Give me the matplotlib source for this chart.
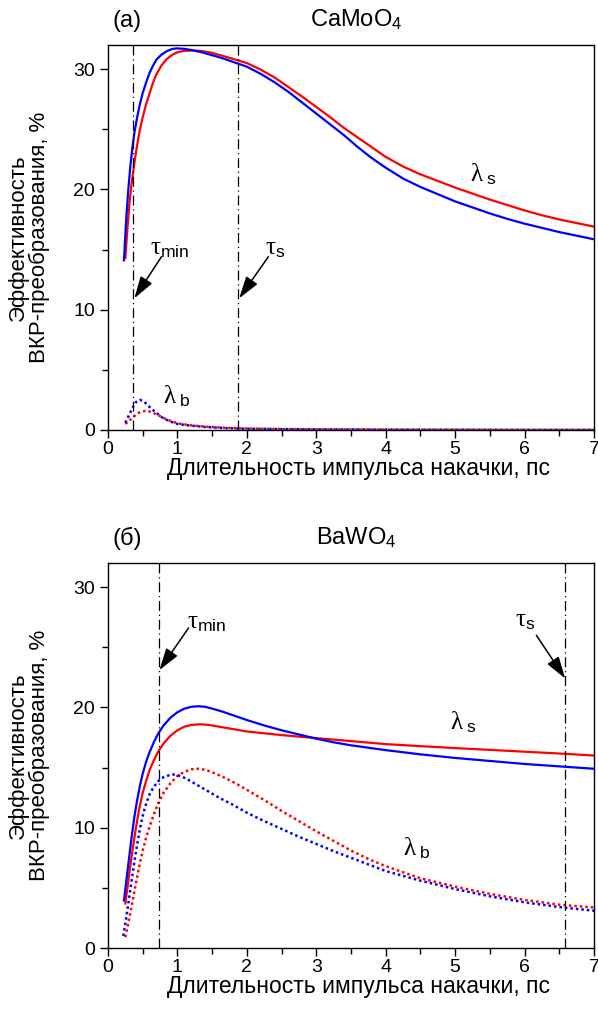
import numpy as np
import matplotlib
matplotlib.use('Agg')
import matplotlib.pyplot as plt
from matplotlib.ticker import MultipleLocator

plt.rcParams['font.family'] = ['Liberation Sans', 'DejaVu Sans']
plt.rcParams['mathtext.fontset'] = 'custom'
plt.rcParams['mathtext.rm'] = 'Liberation Serif'
plt.rcParams['mathtext.it'] = 'Liberation Serif'
plt.rcParams['mathtext.sf'] = 'Liberation Sans'

# ---- (a) CaMoO4 ----
ca_s_blue_x = [0.23, 0.26, 0.29, 0.32, 0.35, 0.38, 0.42, 0.46, 0.5, 0.55, 0.6, 0.65, 0.7, 0.77, 0.85, 0.93, 1.0,
               1.1, 1.2, 1.35, 1.5, 1.65, 1.8, 2.0, 2.2, 2.4, 2.6, 2.8, 3.0, 3.2, 3.4, 3.6, 3.8, 4.0,
               4.25, 4.5, 4.75, 5.0, 5.25, 5.5, 5.75, 6.0, 6.25, 6.5, 6.75, 7.0]
ca_s_blue_y = [14.1, 17.3, 19.8, 21.8, 23.4, 24.7, 26.0, 27.1, 28.0, 28.9, 29.7, 30.3, 30.8, 31.2, 31.5, 31.68, 31.72,
               31.68, 31.58, 31.4, 31.15, 30.9, 30.6, 30.2, 29.6, 28.9, 28.1, 27.2, 26.3, 25.4, 24.5, 23.5, 22.6, 21.8,
               20.9, 20.2, 19.6, 19.0, 18.5, 18.0, 17.55, 17.15, 16.8, 16.45, 16.15, 15.85]
ca_s_red_x = [0.25, 0.28, 0.31, 0.34, 0.38, 0.42, 0.46, 0.5, 0.55, 0.6, 0.65, 0.7, 0.77, 0.85, 0.93, 1.0,
              1.1, 1.23, 1.35, 1.5, 1.65, 1.8, 2.0, 2.2, 2.4, 2.6, 2.8, 3.0, 3.2, 3.4, 3.6, 3.8, 4.0,
              4.25, 4.5, 4.75, 5.0, 5.25, 5.5, 5.75, 6.0, 6.25, 6.5, 6.75, 7.0]
ca_s_red_y = [14.3, 16.8, 18.9, 20.5, 22.2, 23.7, 25.0, 26.0, 27.1, 28.0, 28.9, 29.6, 30.3, 30.85, 31.2, 31.4,
              31.52, 31.55, 31.5, 31.35, 31.1, 30.85, 30.5, 29.95, 29.3, 28.5, 27.7, 26.85, 26.0, 25.1, 24.3, 23.5, 22.7,
              21.9, 21.25, 20.7, 20.15, 19.65, 19.15, 18.7, 18.25, 17.85, 17.5, 17.2, 16.9]
ca_b_blue_x = [0.25, 0.3, 0.35, 0.4, 0.46, 0.52, 0.6, 0.7, 0.8, 0.9, 1.0, 1.2, 1.4, 1.7, 2.0, 2.5, 3, 4, 5, 6, 7]
ca_b_blue_y = [0.6, 1.2, 1.8, 2.3, 2.5, 2.35, 1.9, 1.4, 0.95, 0.7, 0.5, 0.35, 0.25, 0.15, 0.1, 0.07, 0.05, 0.03, 0.02, 0.01, 0.01]
ca_b_red_x = [0.25, 0.3, 0.35, 0.4, 0.45, 0.5, 0.56, 0.62, 0.7, 0.8, 0.9, 1.0, 1.2, 1.4, 1.7, 2.0, 2.5, 3, 4, 5, 6, 7]
ca_b_red_y = [0.5, 0.75, 1.0, 1.25, 1.45, 1.55, 1.6, 1.5, 1.3, 1.0, 0.75, 0.55, 0.38, 0.28, 0.18, 0.12, 0.08, 0.05, 0.03, 0.02, 0.01, 0.01]
ca_tau_min, ca_tau_s = 0.36, 1.87

# ---- (б) BaWO4 ----
ba_s_blue_x = [0.23, 0.26, 0.3, 0.34, 0.38, 0.42, 0.46, 0.5, 0.55, 0.6, 0.66, 0.72, 0.8, 0.9, 1.0, 1.1, 1.2,
               1.3, 1.4, 1.5, 1.65, 1.8, 2.0, 2.25, 2.5, 2.75, 3.0, 3.25, 3.5, 3.75, 4.0, 4.5, 5.0, 5.5, 6.0, 6.5, 7.0]
ba_s_blue_y = [3.95, 5.4, 7.3, 9.2, 10.9, 12.3, 13.5, 14.5, 15.5, 16.3, 17.1, 17.8, 18.5, 19.15, 19.6, 19.9, 20.05,
               20.1, 20.05, 19.9, 19.65, 19.35, 18.95, 18.5, 18.1, 17.75, 17.4, 17.1, 16.85, 16.65, 16.45, 16.1, 15.8,
               15.55, 15.3, 15.1, 14.9]
ba_s_red_x = [0.25, 0.28, 0.32, 0.36, 0.4, 0.45, 0.5, 0.55, 0.6, 0.66, 0.72, 0.8, 0.9, 1.0, 1.1, 1.2, 1.33,
              1.45, 1.6, 1.8, 2.0, 2.5, 3.0, 3.5, 4.0, 4.5, 5.0, 5.5, 6.0, 6.5, 7.0]
ba_s_red_y = [3.7, 5.0, 6.8, 8.4, 9.9, 11.6, 12.9, 13.9, 14.8, 15.6, 16.3, 17.0, 17.65, 18.1, 18.4, 18.55, 18.6,
              18.55, 18.4, 18.2, 18.0, 17.7, 17.45, 17.2, 16.95, 16.78, 16.62, 16.47, 16.32, 16.17, 16.0]
ba_b_blue_x = [0.22, 0.26, 0.3, 0.34, 0.38, 0.42, 0.46, 0.5, 0.55, 0.6, 0.66, 0.72, 0.8, 0.9, 0.95, 1.05, 1.15,
               1.3, 1.45, 1.6, 1.8, 2.0, 2.25, 2.5, 2.75, 3.0, 3.25, 3.5, 3.75, 4.0, 4.5, 5.0, 5.5, 6.0, 6.5, 7.0]
ba_b_blue_y = [1.0, 2.4, 4.0, 5.6, 7.2, 8.6, 9.9, 11.0, 12.0, 12.8, 13.4, 13.85, 14.2, 14.4, 14.42, 14.3, 14.0,
               13.5, 13.0, 12.5, 11.9, 11.25, 10.55, 9.9, 9.25, 8.65, 8.05, 7.5, 6.95, 6.4, 5.6, 4.9, 4.3, 3.8, 3.4, 3.1]
ba_b_red_x = [0.25, 0.28, 0.32, 0.36, 0.4, 0.45, 0.5, 0.55, 0.6, 0.66, 0.72, 0.8, 0.9, 1.0, 1.1, 1.2, 1.3,
              1.4, 1.55, 1.7, 1.85, 2.0, 2.25, 2.5, 2.75, 3.0, 3.25, 3.5, 3.75, 4.0, 4.5, 5.0, 5.5, 6.0, 6.5, 7.0]
ba_b_red_y = [0.9, 1.7, 2.9, 4.1, 5.3, 6.8, 8.1, 9.2, 10.1, 11.1, 12.0, 12.9, 13.7, 14.3, 14.65, 14.85, 14.9,
              14.82, 14.5, 14.1, 13.65, 13.15, 12.3, 11.4, 10.55, 9.7, 8.9, 8.1, 7.4, 6.8, 5.8, 5.1, 4.5, 4.0, 3.6, 3.37]
ba_tau_min, ba_tau_s = 0.73, 6.585

xlabel = 'Длительность импульса накачки, пс'
ylabel = 'Эффективность\nВКР-преобразования, %'

fig = plt.figure(figsize=(5.98, 10.23), dpi=100)
ax1 = fig.add_axes([0.1806, 0.5797, 0.8127, 0.3763])
ax2 = fig.add_axes([0.1806, 0.0733, 0.8127, 0.3763])

dashdot = (0, (8, 3, 1, 3))
dotted = (0, (1, 1.2))


def style(ax):
    ax.set_xlim(0, 7)
    ax.set_ylim(0, 32)
    ax.xaxis.set_major_locator(MultipleLocator(1))
    ax.xaxis.set_minor_locator(MultipleLocator(0.5))
    ax.yaxis.set_major_locator(MultipleLocator(10))
    ax.yaxis.set_minor_locator(MultipleLocator(5))
    ax.tick_params(which='both', direction='out', labelsize=14, width=1)
    ax.tick_params(which='major', length=6)
    ax.tick_params(which='minor', length=4)
    ax.tick_params(axis='x', pad=2)
    for sp in ax.spines.values():
        sp.set_linewidth(1)
    ax.set_xlabel(xlabel, fontsize=16.5, labelpad=-1)
    ax.xaxis.label.set_x(0.515)
    ax.set_ylabel(ylabel, fontsize=16, linespacing=1.0)
    ax.yaxis.set_label_coords(-0.12, 0.5)


def arrow(ax, xy, xytext):
    ax.annotate('', xy=xy, xytext=xytext,
                arrowprops=dict(arrowstyle='-|>,head_length=0.9,head_width=0.28', color='black', lw=1.1,
                                mutation_scale=15, shrinkA=0, shrinkB=0))


# panel (a)
ax1.plot(ca_s_red_x, ca_s_red_y, color='red', lw=1.6)
ax1.plot(ca_s_blue_x, ca_s_blue_y, color='blue', lw=1.6)
ax1.plot(ca_b_red_x, ca_b_red_y, color='red', lw=1.8, linestyle=dotted)
ax1.plot(ca_b_blue_x, ca_b_blue_y, color='blue', lw=1.8, linestyle=dotted)
ax1.axvline(ca_tau_min, color='black', lw=0.9, linestyle=dashdot)
ax1.axvline(ca_tau_s, color='black', lw=0.9, linestyle=dashdot)
arrow(ax1, (0.38, 10.95), (0.77, 14.4))
arrow(ax1, (1.89, 10.95), (2.31, 14.4))
ax1.text(0.89, 15.1, r'$\tau_{\mathsf{min}}$', fontsize=18, ha='center', va='center')
ax1.text(2.41, 15.1, r'$\tau_{\mathsf{s}}$', fontsize=18, ha='center', va='center')
ax1.text(5.41, 21.3, r'$\lambda_{\ \mathsf{s}}$', fontsize=18, ha='center', va='center')
ax1.text(0.99, 2.8, r'$\lambda_{\ \mathsf{b}}$', fontsize=18, ha='center', va='center')
ax1.text(0.01, 1.047, '(a)', transform=ax1.transAxes, fontsize=17, ha='left', va='baseline')
ax1.text(0.51, 1.047, r'CaMoO$_{\mathsf{4}}$', transform=ax1.transAxes, fontsize=17, ha='center', va='baseline')
style(ax1)

# panel (б)
ax2.plot(ba_s_red_x, ba_s_red_y, color='red', lw=1.6)
ax2.plot(ba_s_blue_x, ba_s_blue_y, color='blue', lw=1.6)
ax2.plot(ba_b_red_x, ba_b_red_y, color='red', lw=1.8, linestyle=dotted)
ax2.plot(ba_b_blue_x, ba_b_blue_y, color='blue', lw=1.8, linestyle=dotted)
ax2.axvline(ba_tau_min, color='black', lw=0.9, linestyle=dashdot)
ax2.axvline(ba_tau_s, color='black', lw=0.9, linestyle=dashdot)
arrow(ax2, (0.74, 23.1), (1.16, 26.6))
arrow(ax2, (6.585, 22.4), (6.17, 26.0))
ax2.text(1.42, 27.1, r'$\tau_{\mathsf{min}}$', fontsize=18, ha='center', va='center')
ax2.text(6.01, 27.3, r'$\tau_{\mathsf{s}}$', fontsize=18, ha='center', va='center')
ax2.text(5.12, 18.8, r'$\lambda_{\ \mathsf{s}}$', fontsize=18, ha='center', va='center')
ax2.text(4.45, 8.3, r'$\lambda_{\ \mathsf{b}}$', fontsize=18, ha='center', va='center')
ax2.text(0.01, 1.047, '(б)', transform=ax2.transAxes, fontsize=17, ha='left', va='baseline')
ax2.text(0.51, 1.047, r'BaWO$_{\mathsf{4}}$', transform=ax2.transAxes, fontsize=17, ha='center', va='baseline')
style(ax2)

plt.savefig('out.png', dpi=100)
